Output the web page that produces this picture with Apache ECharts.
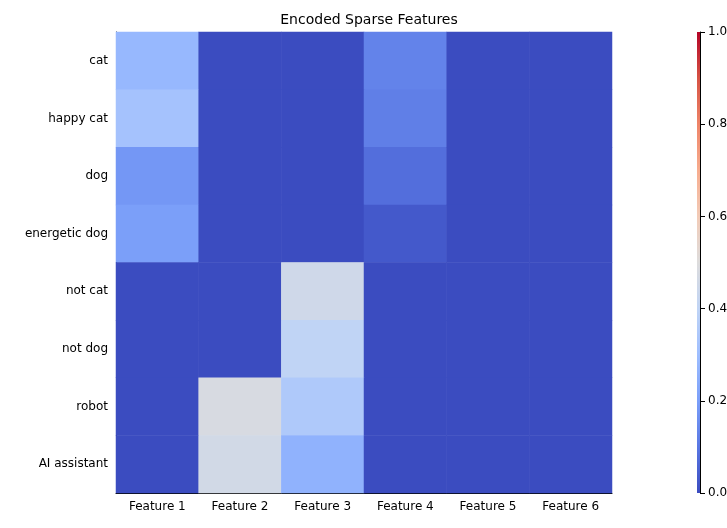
<!DOCTYPE html>
<html><head><meta charset="utf-8">
<script src="https://cdn.jsdelivr.net/npm/echarts@6/dist/echarts.min.js"></script>
</head><body style="margin:0">
<div id="c" style="width:727px;height:528px"></div>
<script>
const rows = ["cat","happy cat","dog","energetic dog","not cat","not dog","robot","AI assistant"];
const features = ["Feature 1","Feature 2","Feature 3","Feature 4","Feature 5","Feature 6"];
const values = [
 [0.28,0,0,0.13,0,0],
 [0.32,0,0,0.12,0,0],
 [0.18,0,0,0.08,0,0],
 [0.20,0,0,0.03,0,0],
 [0,0,0.45,0,0,0],
 [0,0,0.40,0,0,0],
 [0,0.48,0.35,0,0,0],
 [0,0.46,0.26,0,0,0]
];
const cbTicks = [0,0.2,0.4,0.6,0.8,1.0];
const cool = ['#3b4cc0','#5977e3','#7b9ff9','#9ebeff','#c0d4f5','#dddcdc','#f2cbb7','#f7ac8e','#ee8468','#d65244','#b40426'];
const data = [];
values.forEach((r,i)=>r.forEach((v,j)=>data.push([j,i,v])));
const font = {fontFamily:'DejaVu Sans',fontSize:12,color:'#000'};
const ch = echarts.init(document.getElementById('c'));
ch.setOption({
 animation:false,
 title:{text:'Encoded Sparse Features',left:364,top:8,textAlign:'center',textStyle:{fontFamily:'DejaVu Sans',fontSize:14,fontWeight:'normal',color:'#000'}},
 grid:[{left:116,top:32,width:496,height:461},{left:697,top:32,width:12,height:461}],
 xAxis:[{type:'category',data:features,gridIndex:0,axisLabel:font,axisTick:{alignWithLabel:true,lineStyle:{color:'#000'}},axisLine:{lineStyle:{color:'#000'}},splitLine:{show:false}},
        {type:'category',data:['c'],gridIndex:1,show:false}],
 yAxis:[{type:'category',data:rows,inverse:true,gridIndex:0,axisLabel:font,axisTick:{alignWithLabel:true,lineStyle:{color:'#000'}},axisLine:{lineStyle:{color:'#000'}}},
        {type:'value',gridIndex:1,min:0,max:1,interval:0.2,position:'right',axisLabel:Object.assign({formatter:v=>v.toFixed(1)},font),axisTick:{show:true,lineStyle:{color:'#000'}},axisLine:{show:true,lineStyle:{color:'#000'}},splitLine:{show:false},
         name:'Feature Activation',nameLocation:'middle',nameRotate:90,nameGap:38,nameTextStyle:font}],
 visualMap:{show:false,min:0,max:1,seriesIndex:0,inRange:{color:cool}},
 series:[
  {type:'heatmap',data:data,xAxisIndex:0,yAxisIndex:0},
  {type:'bar',xAxisIndex:1,yAxisIndex:1,data:[1],barWidth:'100%',
   itemStyle:{color:new echarts.graphic.LinearGradient(0,1,0,0,cool.map((c,i)=>({offset:i/10,color:c})))}}
 ]
});
</script></body></html>
